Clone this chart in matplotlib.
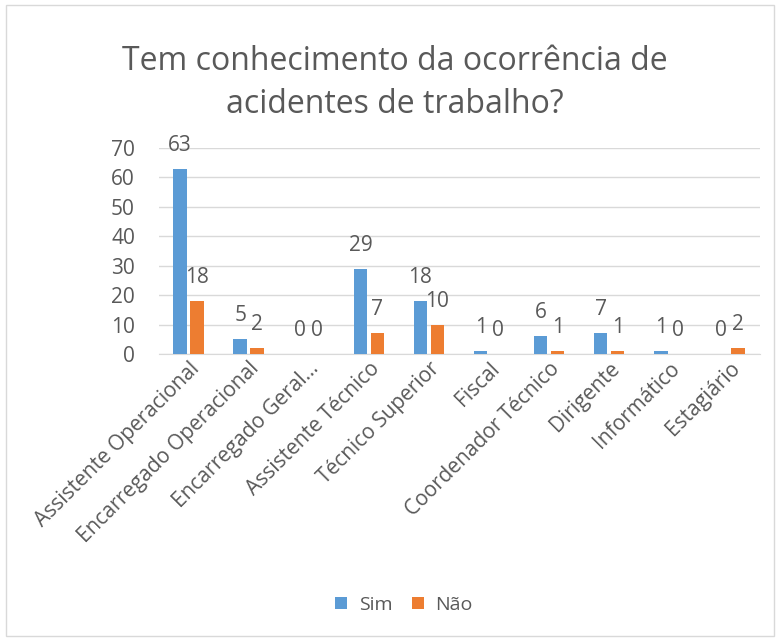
import matplotlib
matplotlib.use("Agg")
import matplotlib.pyplot as plt
import numpy as np
from matplotlib.patches import Rectangle

categories = ["Assistente Operacional", "Encarregado Operacional", "Encarregado Geral…",
              "Assistente Técnico", "Técnico Superior", "Fiscal", "Coordenador Técnico",
              "Dirigente", "Informático", "Estagiário"]
sim = [63, 5, 0, 29, 18, 1, 6, 7, 1, 0]
nao = [18, 2, 0, 7, 10, 0, 1, 1, 0, 2]
yticks = [0, 10, 20, 30, 40, 50, 60, 70]

plt.rcParams['font.family'] = ['Open Sans', 'DejaVu Sans']
txt = '#595959'
blue = '#5B9BD5'
orange = '#ED7D31'

fig = plt.figure(figsize=(7.76, 6.4), dpi=100)
fig.patches.append(Rectangle((6/776, 4/640), 768/776, 631/640, transform=fig.transFigure,
                             fill=False, edgecolor='#D9D9D9', linewidth=1))
ax = fig.add_axes([158.5/776, 1-354/640, 601/776, 206/640])
x = np.arange(len(categories))
w = 0.223
off = 0.141
b1 = ax.bar(x - off, sim, w, color=blue, label='Sim', zorder=3)
b2 = ax.bar(x + off, nao, w, color=orange, label='Não', zorder=3)
for xi, v in zip(x, sim):
    ax.text(xi - off, v + 8, str(v), ha='center', va='center', fontsize=15, color=txt)
for xi, v in zip(x, nao):
    ax.text(xi + off, v + 8, str(v), ha='center', va='center', fontsize=15, color=txt)
ax.set_xlim(-0.5, len(categories) - 0.5)
ax.set_ylim(0, 70)
ax.set_yticks(yticks)
ax.yaxis.grid(True, color='#D9D9D9', linewidth=1, zorder=0)
ax.set_axisbelow(True)
for s in ['top', 'right', 'left']:
    ax.spines[s].set_visible(False)
ax.spines['bottom'].set_color('#D9D9D9')
ax.tick_params(axis='y', length=0, labelsize=15, labelcolor=txt, pad=17)
ax.tick_params(axis='x', length=0, labelsize=15, labelcolor=txt, pad=3)
ax.set_xticks(x)
ax.set_xticklabels(categories, rotation=45, ha='right', rotation_mode='anchor')
fig.text(395/776, 1-83/640, "Tem conhecimento da ocorrência de\nacidentes de trabalho?",
         ha='center', va='center', fontsize=23, color=txt, linespacing=1.38)
fig.legend(handles=[b1, b2], labels=['Sim', 'Não'], loc='center', bbox_to_anchor=(404/776, 1-605/640),
           ncol=2, frameon=False, fontsize=14, labelcolor=txt, handlelength=0.6, handleheight=0.6,
           handletextpad=0.6, columnspacing=1.0)
fig.savefig('out.png', dpi=100)
